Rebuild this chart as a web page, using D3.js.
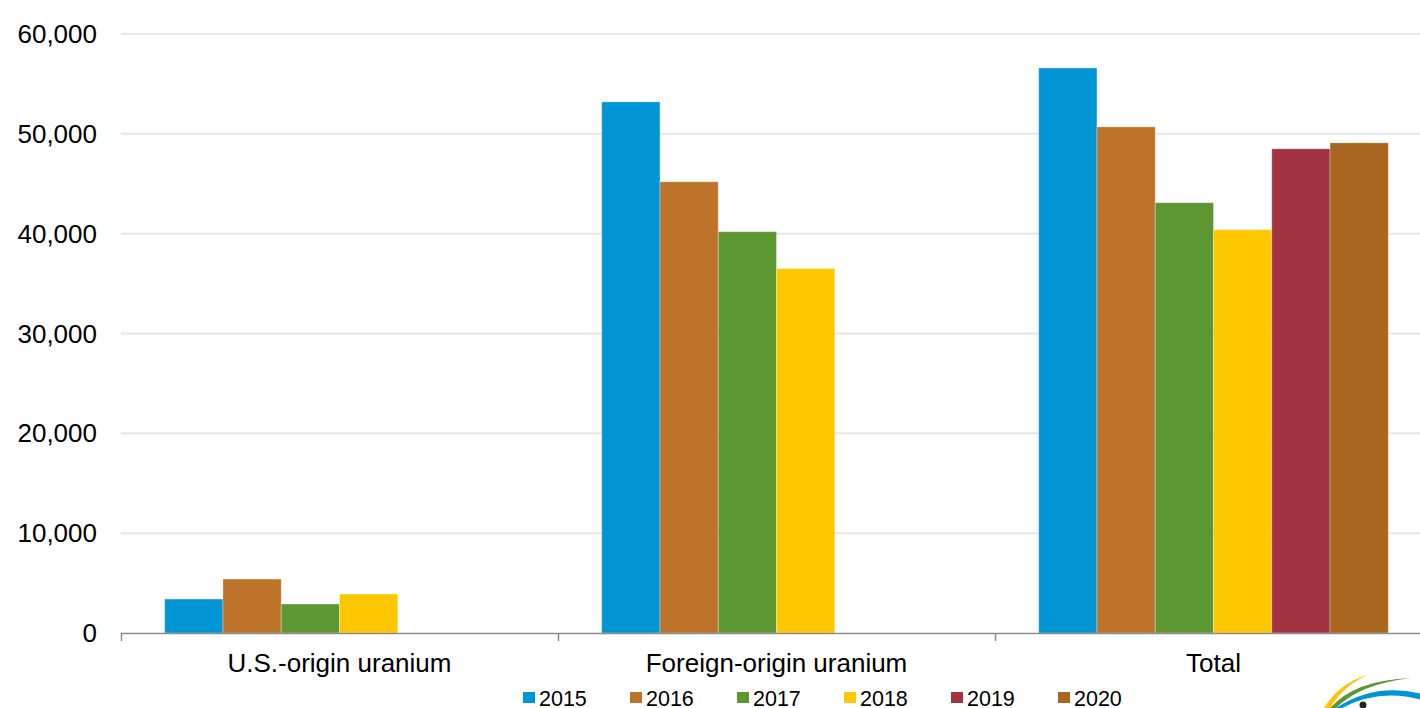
<!DOCTYPE html>
<meta charset="utf-8">
<style>
body { margin: 0; background: #fff; }
svg { display: block; font-family: "Liberation Sans", Arial, sans-serif; }
.grid line { stroke: #e6e6e6; stroke-width: 2; }
.tick-label { font-size: 26px; fill: #000; }
.cat-label { font-size: 26px; fill: #000; }
.legend text { font-size: 21.5px; fill: #000; }
</style>
<svg width="1420" height="708"></svg>
<script src="https://d3js.org/d3.v7.min.js"></script>
<script>

var categories = ["U.S.-origin uranium", "Foreign-origin uranium", "Total"];
var years = ["2015", "2016", "2017", "2018", "2019", "2020"];
var colors = ["#0096d6", "#bd732a", "#5d9732", "#ffc700", "#a33340", "#a86621"];

// values in thousand-ish pounds (null = no bar)
var usOrigin      = [3400, 5400, 2900, 3900, null, null];
var foreignOrigin = [53200, 45200, 40200, 36500, null, null];
var total         = [56600, 50700, 43100, 40400, 48500, 49100];

var yTicks = [0, 10000, 20000, 30000, 40000, 50000, 60000];

var series = [usOrigin, foreignOrigin, total];

var svg = d3.select("svg"),
    width = +svg.attr("width"),
    height = +svg.attr("height");

var x0 = d3.scaleBand()
    .domain(categories)
    .range([121, 1432]);

var x1 = d3.scaleBand()
    .domain(years)
    .range([0, x0.bandwidth()])
    .paddingOuter(0.75)
    .paddingInner(0);

var y = d3.scaleLinear()
    .domain([0, 60000])
    .range([633, 34]);

// gridlines
svg.append("g")
    .attr("class", "grid")
  .selectAll("line")
  .data(yTicks.slice(1))
  .enter().append("line")
    .attr("x1", 121)
    .attr("x2", width)
    .attr("y1", function(d) { return y(d); })
    .attr("y2", function(d) { return y(d); });

// y labels
svg.append("g")
  .selectAll("text")
  .data(yTicks)
  .enter().append("text")
    .attr("class", "tick-label")
    .attr("x", 97)
    .attr("y", function(d) { return y(d); })
    .attr("dy", "0.35em")
    .attr("text-anchor", "end")
    .text(function(d) { return d3.format(",")(d); });

// bars
var group = svg.append("g")
  .selectAll("g")
  .data(categories)
  .enter().append("g")
    .attr("transform", function(d) { return "translate(" + x0(d) + ",0)"; });

group.selectAll("rect")
  .data(function(d, i) {
    return series[i].map(function(v, j) { return {year: years[j], value: v, color: colors[j]}; })
      .filter(function(e) { return e.value != null; });
  })
  .enter().append("rect")
    .attr("x", function(d) { return x1(d.year); })
    .attr("width", x1.bandwidth())
    .attr("y", function(d) { return y(d.value); })
    .attr("height", function(d) { return y(0) - y(d.value); })
    .attr("fill", function(d) { return d.color; })
    .attr("stroke", "#fff")
    .attr("stroke-opacity", 0.3)
    .attr("stroke-width", 1);

// x axis line + ticks
svg.append("line")
    .attr("x1", 121).attr("x2", width)
    .attr("y1", 633.5).attr("y2", 633.5)
    .attr("stroke", "#8c8c8c").attr("stroke-width", 1.5);

svg.append("g")
  .selectAll("line")
  .data(categories)
  .enter().append("line")
    .attr("x1", function(d) { return x0(d) + 0.5; })
    .attr("x2", function(d) { return x0(d) + 0.5; })
    .attr("y1", 633)
    .attr("y2", 641)
    .attr("stroke", "#8c8c8c").attr("stroke-width", 1.5);

svg.append("g")
  .selectAll("text")
  .data(categories)
  .enter().append("text")
    .attr("class", "cat-label")
    .attr("x", function(d) { return x0(d) + x0.bandwidth() / 2; })
    .attr("y", 672)
    .attr("text-anchor", "middle")
    .text(function(d) { return d; });

// legend
var legend = svg.append("g")
    .attr("class", "legend")
  .selectAll("g")
  .data(years)
  .enter().append("g")
    .attr("transform", function(d, i) { return "translate(" + (523 + i * 107) + ",0)"; });

legend.append("rect")
    .attr("y", 692)
    .attr("width", 12)
    .attr("height", 11)
    .attr("fill", function(d, i) { return colors[i]; });

legend.append("text")
    .attr("x", 16)
    .attr("y", 706)
    .text(function(d) { return d; });

// logo fragment, bottom right
var logo = svg.append("g");
logo.append("path")
    .attr("d", "M1324,708 Q1340,682 1368,675 Q1345,684 1330,708 Z")
    .attr("fill", "#ffc20e");
logo.append("path")
    .attr("d", "M1330,708 Q1355,680 1411,678 Q1360,684 1336,708 Z")
    .attr("fill", "#5d9732");
logo.append("path")
    .attr("d", "M1336,708 Q1375,682 1422,694 L1422,700 Q1380,688 1342,708 Z")
    .attr("fill", "#0096d6");
logo.append("circle")
    .attr("cx", 1363).attr("cy", 705).attr("r", 3.5)
    .attr("fill", "#222");

</script>
